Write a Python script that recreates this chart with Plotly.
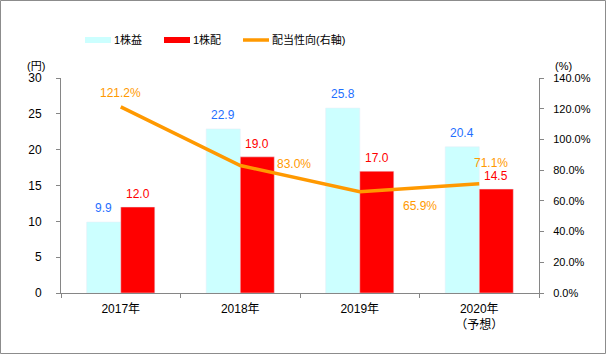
import plotly.graph_objects as go

categories = ["2017年", "2018年", "2019年", "2020年<br>（予想）"]
eps = [9.9, 22.9, 25.8, 20.4]
dps = [12.0, 19.0, 17.0, 14.5]
payout = [121.2, 83.0, 65.9, 71.1]
names = ["1株益", "1株配", "配当性向(右軸)"]

C_EPS = "#CCFFFF"
C_DPS = "#FF0000"
C_LINE = "#FF9900"
C_EPS_TXT = "#1F6FFF"
AX = "#868686"
FONT = "Liberation Sans, Noto Sans CJK JP, sans-serif"

W, H = 606, 354
L, R, T, B = 61, 67, 78, 61
pw, ph = W - L - R, H - T - B

fig = go.Figure()
fig.add_trace(go.Bar(x=categories, y=eps, name=names[0], marker_color=C_EPS, showlegend=False))
fig.add_trace(go.Bar(x=categories, y=dps, name=names[1], marker_color=C_DPS, showlegend=False))
fig.add_trace(go.Scatter(x=categories, y=payout, name=names[2], yaxis="y2", mode="lines",
                         line=dict(color=C_LINE, width=3.5), showlegend=False))

ann = []
for c, v in zip(categories, eps):
    ann.append(dict(x=c, y=v, text=f"{v:.1f}", showarrow=False, xshift=-17, yshift=14,
                    yanchor="middle", font=dict(color=C_EPS_TXT, size=12, family=FONT)))
for c, v in zip(categories, dps):
    ann.append(dict(x=c, y=v, text=f"{v:.1f}", showarrow=False, xshift=17, yshift=13,
                    yanchor="middle", font=dict(color="#FF0000", size=12, family=FONT)))
line_offsets = [("center", 0, 14), ("left", 35, 2), ("left", 41, -14), ("center", 12, 21)]
for c, v, (xa, dx, dy) in zip(categories, payout, line_offsets):
    ann.append(dict(x=c, y=v, yref="y2", text=f"{v:.1f}%", showarrow=False, xanchor=xa,
                    xshift=dx, yshift=dy, yanchor="middle",
                    font=dict(color=C_LINE, size=12, family=FONT)))

def px(x):
    return (x - L) / pw

def py(y):
    return (H - B - y) / ph

ann.append(dict(xref="paper", yref="paper", x=px(25), y=py(66), yshift=8, xanchor="left", text="(円)",
                showarrow=False, font=dict(size=11, color="black", family=FONT)))
ann.append(dict(xref="paper", yref="paper", x=px(553), y=py(66), yshift=8, xanchor="left", text="(%)",
                showarrow=False, font=dict(size=11, color="black", family=FONT)))

shapes = [dict(type="rect", xref="paper", yref="paper", x0=px(0.5), x1=px(605.5), y0=py(353.5), y1=py(0.5),
               line=dict(color="#8C8C8C", width=1))]
# manual legend
leg = [(85, C_EPS, "rect"), (164, C_DPS, "rect"), (243, C_LINE, "line")]
for (x0, col, kind), nm in zip(leg, names):
    if kind == "rect":
        shapes.append(dict(type="rect", xref="paper", yref="paper", x0=px(x0), x1=px(x0 + 26),
                           y0=py(43), y1=py(37), fillcolor=col, line=dict(width=0)))
    else:
        shapes.append(dict(type="line", xref="paper", yref="paper", x0=px(x0), x1=px(x0 + 26),
                           y0=py(40), y1=py(40), line=dict(color=col, width=3.5)))
    ann.append(dict(xref="paper", yref="paper", x=px(x0 + 27), y=py(40), yshift=9, xanchor="left", text=nm,
                    showarrow=False, font=dict(size=11, color="black", family=FONT)))

fig.update_layout(
    width=W, height=H, margin=dict(l=L, r=R, t=T, b=B),
    paper_bgcolor="white", plot_bgcolor="white",
    barmode="group", bargap=0.43, bargroupgap=0,
    font=dict(family=FONT, size=11, color="black"),
    xaxis=dict(type="category", showline=True, linecolor=AX, linewidth=1, ticks="outside",
               tickson="boundaries", tickcolor=AX, ticklen=4, showgrid=False,
               ticklabelstandoff=5, tickfont=dict(size=12)),
    yaxis=dict(range=[0, 30], dtick=5, showline=True, linecolor=AX, ticks="outside", tickcolor=AX,
               ticklen=4, showgrid=False, zeroline=False, ticklabelstandoff=12, tickfont=dict(size=12)),
    yaxis2=dict(range=[0, 140], dtick=20, overlaying="y", side="right", showline=True, linecolor=AX,
                ticks="outside", tickcolor=AX, ticklen=4, showgrid=False, zeroline=False,
                ticklabelstandoff=7, tickformat=".1f", ticksuffix="%", tickfont=dict(size=11)),
    annotations=ann, shapes=shapes,
)
fig.write_html("out.html")
